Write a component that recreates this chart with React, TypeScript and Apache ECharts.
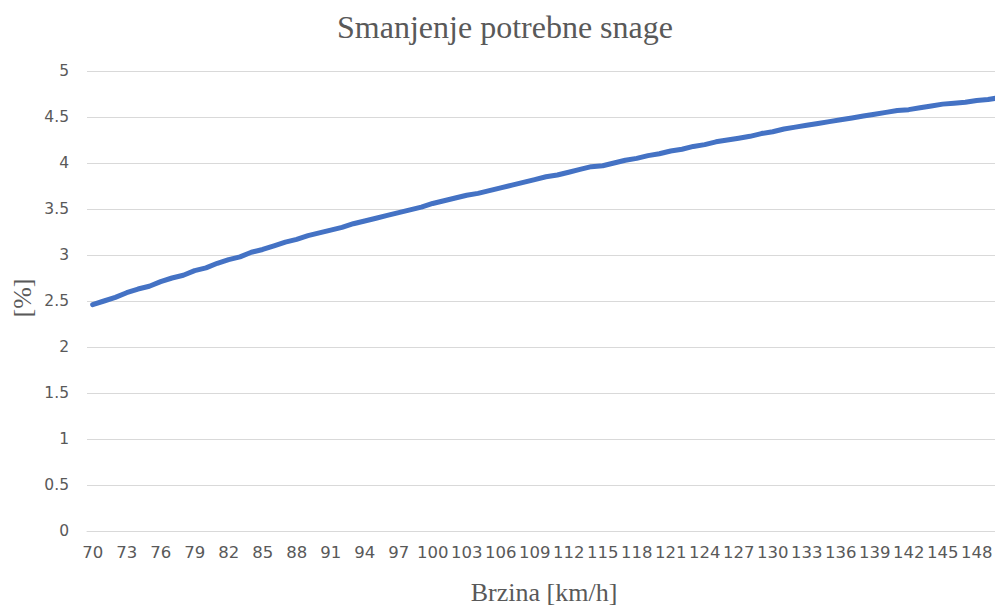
import React, { useEffect, useRef } from "react";
import * as echarts from "echarts";

// Speed categories in km/h
const speeds: string[] = [];
for (let v = 70; v <= 150; v++) speeds.push(String(v));

// Reduction of required power, percent
const reduction: number[] = [
  2.46, 2.5, 2.54, 2.59, 2.63, 2.66, 2.71, 2.75, 2.78, 2.83,
  2.86, 2.91, 2.95, 2.98, 3.03, 3.06, 3.1, 3.14, 3.17, 3.21,
  3.24, 3.27, 3.3, 3.34, 3.37, 3.4, 3.43, 3.46, 3.49, 3.52,
  3.56, 3.59, 3.62, 3.65, 3.67, 3.7, 3.73, 3.76, 3.79, 3.82,
  3.85, 3.87, 3.9, 3.93, 3.96, 3.97, 4.0, 4.03, 4.05, 4.08,
  4.1, 4.13, 4.15, 4.18, 4.2, 4.23, 4.25, 4.27, 4.29, 4.32,
  4.34, 4.37, 4.39, 4.41, 4.43, 4.45, 4.47, 4.49, 4.51, 4.53,
  4.55, 4.57, 4.58, 4.6, 4.62, 4.64, 4.65, 4.66, 4.68, 4.69,
  4.71,
];

const titleText = "Smanjenje potrebne snage";
const xName = "Brzina [km/h]";
const yName = "[%]";

const GREY = "#595959";
const SERIF = "'Liberation Serif', 'Times New Roman', serif";
const SANS = "'DejaVu Sans', sans-serif";

export default function App() {
  const ref = useRef<HTMLDivElement>(null);

  useEffect(() => {
    if (!ref.current) return;
    const chart = echarts.init(ref.current, undefined, { renderer: "svg" });
    chart.setOption({
      animation: false,
      backgroundColor: "#ffffff",
      grid: { left: 87, top: 71, width: 918, bottom: 76 },
      graphic: [
        {
          type: "text",
          x: 505,
          y: 27,
          style: {
            text: titleText,
            font: `32px ${SERIF}`,
            fill: GREY,
            align: "center",
            verticalAlign: "middle",
          },
        },
        {
          type: "text",
          x: 544,
          y: 592,
          style: {
            text: xName,
            font: `26px ${SERIF}`,
            fill: GREY,
            align: "center",
            verticalAlign: "middle",
          },
        },
        {
          type: "text",
          x: 22,
          y: 298,
          rotation: Math.PI / 2,
          style: {
            text: yName,
            font: `26px ${SERIF}`,
            fill: GREY,
            align: "center",
            verticalAlign: "middle",
          },
        },
      ],
      xAxis: {
        type: "category",
        data: speeds,
        boundaryGap: true,
        axisLine: { show: true, lineStyle: { color: "#d9d9d9", width: 1 } },
        axisTick: { show: false },
        axisLabel: {
          interval: 2,
          color: GREY,
          fontFamily: SANS,
          fontSize: 16.5,
          margin: 13,
        },
        splitLine: { show: false },
      },
      yAxis: {
        type: "value",
        min: 0,
        max: 5,
        interval: 0.5,
        axisLine: { show: false },
        axisTick: { show: false },
        axisLabel: {
          color: GREY,
          fontFamily: SANS,
          fontSize: 15.5,
          margin: 18,
        },
        splitLine: { lineStyle: { color: "#d9d9d9", width: 1 } },
      },
      series: [
        {
          type: "line",
          data: reduction,
          showSymbol: false,
          symbol: "none",
          lineStyle: { color: "#4472C4", width: 5, cap: "round", join: "round" },
        },
      ],
    });
    return () => chart.dispose();
  }, []);

  return (
    <div
      style={{
        position: "fixed",
        left: 0,
        top: 0,
        width: 995,
        height: 607,
        overflow: "hidden",
        background: "#fff",
      }}
    >
      <div ref={ref} style={{ width: 1010, height: 607 }} />
    </div>
  );
}
